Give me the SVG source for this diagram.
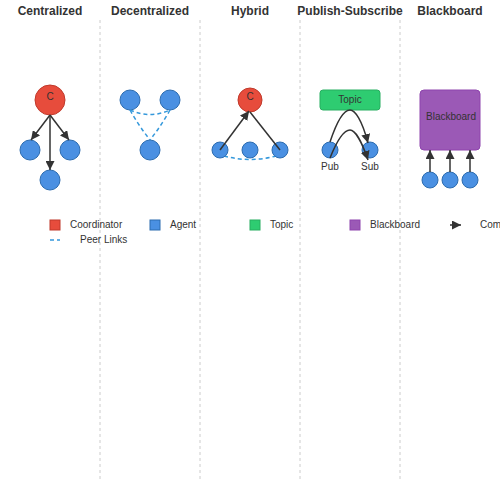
<svg xmlns="http://www.w3.org/2000/svg" width="500" height="500" viewBox="0 0 500 500">
<style>
.title{font-family:"Liberation Sans",Arial,sans-serif;font-size:12px;font-weight:bold;fill:#333;text-anchor:middle}
.lbl{font-family:"Liberation Sans",Arial,sans-serif;font-size:10px;fill:#333;text-anchor:middle}
.leg{font-family:"Liberation Sans",Arial,sans-serif;font-size:10px;fill:#333}
.div{stroke:#ccc;stroke-width:1;stroke-dasharray:3,3}
.coord{fill:#e74c3c;stroke:#c0392b;stroke-width:1}
.agent{fill:#4a90e2;stroke:#2c6cb0;stroke-width:1}
.topic{fill:#2ecc71;stroke:#27ae60;stroke-width:1}
.bb{fill:#9b59b6;stroke:#8e44ad;stroke-width:1}
.arrow{stroke:#333;stroke-width:1.5;fill:none}
.peer{stroke:#3498db;stroke-width:1.5;fill:none;stroke-dasharray:4,3}
</style>
<defs>
<marker id="arr" viewBox="0 0 10 10" refX="10" refY="5" markerWidth="9" markerHeight="9" markerUnits="userSpaceOnUse" orient="auto"><path d="M0,0 L10,5 L0,10 z" fill="#333"/></marker>
</defs>
<rect width="500" height="500" fill="#fff"/>
<g id="titles">
<text class="title" x="50" y="15">Centralized</text>
<text class="title" x="150" y="15">Decentralized</text>
<text class="title" x="250" y="15">Hybrid</text>
<text class="title" x="350" y="15">Publish-Subscribe</text>
<text class="title" x="450" y="15">Blackboard</text>
</g>
<g id="dividers">
<line class="div" x1="100" y1="20" x2="100" y2="480"/>
<line class="div" x1="200" y1="20" x2="200" y2="480"/>
<line class="div" x1="300" y1="20" x2="300" y2="480"/>
<line class="div" x1="400" y1="20" x2="400" y2="480"/>
</g>
<g id="centralized">
<circle class="coord" cx="50" cy="100" r="15"/>
<text class="lbl" x="50" y="100">C</text>
<circle class="agent" cx="30" cy="150" r="10"/>
<circle class="agent" cx="70" cy="150" r="10"/>
<circle class="agent" cx="50" cy="180" r="10"/>
</g>
<g id="decentralized">
<circle class="agent" cx="130" cy="100" r="10"/>
<circle class="agent" cx="170" cy="100" r="10"/>
<circle class="agent" cx="150" cy="150" r="10"/>
</g>
<g id="hybrid">
<path class="peer" d="M224,156 Q250,163 276,156"/>
<circle class="coord" cx="250" cy="100" r="12"/>
<text class="lbl" x="250" y="100">C</text>
<circle class="agent" cx="220" cy="150" r="8"/>
<circle class="agent" cx="250" cy="150" r="8"/>
<circle class="agent" cx="280" cy="150" r="8"/>
</g>
<g id="pubsub">
<rect class="topic" x="320" y="90" width="60" height="20" rx="3"/>
<text class="lbl" x="350" y="103">Topic</text>
<circle class="agent" cx="330" cy="150" r="8"/>
<circle class="agent" cx="370" cy="150" r="8"/>
<text class="lbl" x="330" y="170">Pub</text>
<text class="lbl" x="370" y="170">Sub</text>
</g>
<g id="blackboard">
<rect class="bb" x="420" y="90" width="60" height="60" rx="4"/>
<text class="lbl" x="451" y="120">Blackboard</text>
<circle class="agent" cx="430" cy="180" r="8"/>
<circle class="agent" cx="450" cy="180" r="8"/>
<circle class="agent" cx="470" cy="180" r="8"/>
</g>
<g id="connectors">
<line class="arrow" x1="50" y1="115" x2="31" y2="140" marker-end="url(#arr)"/>
<line class="arrow" x1="50" y1="115" x2="69" y2="140" marker-end="url(#arr)"/>
<line class="arrow" x1="50" y1="115" x2="50" y2="170" marker-end="url(#arr)" stroke="#444" stroke-width="2"/>
<path class="peer" d="M130,110 Q150,119 170,110"/>
<path class="peer" d="M130,110 Q139,126 150,140"/>
<path class="peer" d="M170,110 Q161,126 150,140"/>
<line class="arrow" x1="220" y1="150" x2="249" y2="111" marker-end="url(#arr)"/>
<line class="arrow" x1="250" y1="112" x2="280" y2="150"/>
<path class="arrow" d="M330,142 C338,118 345,110 350,110 C355,110 362,120 368,143" marker-end="url(#arr)"/>
<path class="arrow" d="M330,158 C338,138 345,130 350,130 C355,130 362,142 368,160" marker-end="url(#arr)"/>
<line class="arrow" x1="430" y1="172" x2="430" y2="150" marker-end="url(#arr)"/>
<line class="arrow" x1="450" y1="172" x2="450" y2="150" marker-end="url(#arr)"/>
<line class="arrow" x1="470" y1="172" x2="470" y2="150" marker-end="url(#arr)"/>
</g>
<g id="legend">
<rect class="coord" x="50" y="220" width="10" height="10"/>
<text class="leg" x="70" y="228">Coordinator</text>
<rect class="agent" x="150" y="220" width="10" height="10"/>
<text class="leg" x="170" y="228">Agent</text>
<rect class="topic" x="250" y="220" width="10" height="10"/>
<text class="leg" x="270" y="228">Topic</text>
<rect class="bb" x="350" y="220" width="10" height="10"/>
<text class="leg" x="370" y="228">Blackboard</text>
<line class="arrow" x1="450" y1="225" x2="461" y2="225" marker-end="url(#arr)"/>
<text class="leg" x="480" y="228">Communication</text>
<line class="peer" x1="50" y1="240" x2="60" y2="240"/>
<text class="leg" x="80" y="243">Peer Links</text>
</g>
</svg>
